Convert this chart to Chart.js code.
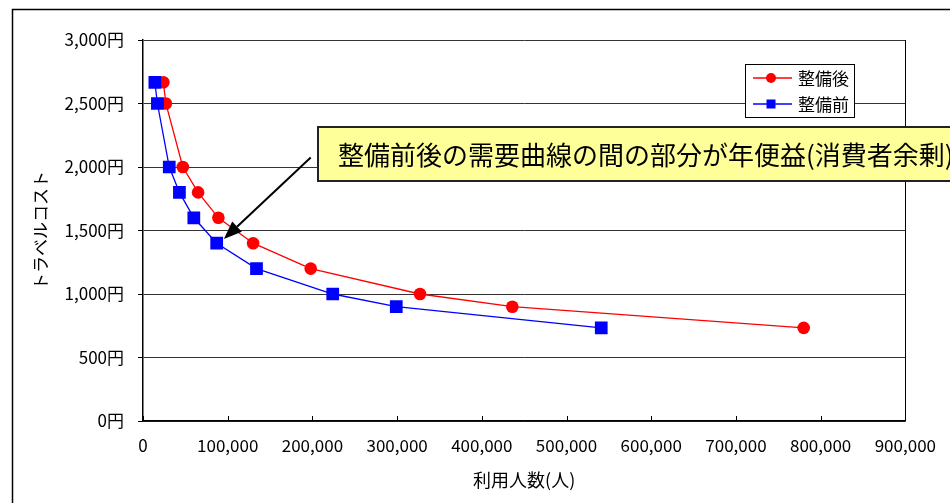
<!DOCTYPE html>
<html>
<head>
<meta charset="utf-8">
<script src="https://cdn.jsdelivr.net/npm/chart.js@4.4.0/dist/chart.umd.min.js"></script>
<style>
  html, body { margin: 0; padding: 0; background: #fff; }
  #wrap { position: relative; width: 950px; height: 503px; }
</style>
</head>
<body>
<div id="wrap"><canvas id="chart" width="950" height="503"></canvas></div>
<script>
// travel cost (yen) for each step of the demand curve
const costs = [2667, 2500, 2000, 1800, 1600, 1400, 1200, 1000, 900, 733];
// users per year, before / after the improvement
const usersBefore = [14000, 17000, 31000, 43000, 60000, 87000, 134000, 224000, 299000, 541000];
const usersAfter = [24000, 27000, 47000, 65000, 89000, 130000, 198000, 327000, 436000, 780000];

const labelBefore = "整備前";
const labelAfter = "整備後";
const xTitle = "利用人数(人)";
const yTitle = "トラベルコスト";
const noteText = "整備前後の需要曲線の間の部分が年便益(消費者余剰)";

const xTickValues = [0, 100000, 200000, 300000, 400000, 500000, 600000, 700000, 800000, 900000];
const yTickValues = [0, 500, 1000, 1500, 2000, 2500, 3000];

// arrow of the note, in data units (from, to)
const arrowFrom = { x: 198000, y: 2075 };
const arrowTo = { x: 95500, y: 1433 };

const FONT = "'Noto Sans CJK JP', 'Noto Sans', sans-serif";

function toPoints(xs) {
  return xs.map((x, i) => ({ x: x, y: costs[i] }));
}

// draws frame, right border, inner x ticks, legend, note box and arrow
const overlay = {
  id: "overlay",
  afterDraw(chart) {
    const ctx = chart.ctx;
    const area = chart.chartArea;
    const xs = chart.scales.x;
    const ys = chart.scales.y;
    ctx.save();

    // right edge of plot
    ctx.strokeStyle = "#000";
    ctx.lineWidth = 1;
    ctx.beginPath();
    ctx.moveTo(Math.round(area.right) + 0.5, area.top);
    ctx.lineTo(Math.round(area.right) + 0.5, area.bottom);
    ctx.stroke();

    // small tick marks pointing into the plot
    ctx.beginPath();
    xTickValues.forEach(v => {
      const px = Math.round(xs.getPixelForValue(v)) + 0.5;
      ctx.moveTo(px, area.bottom);
      ctx.lineTo(px, area.bottom - 5);
    });
    ctx.stroke();

    // legend
    ctx.fillStyle = "#fff";
    ctx.fillRect(745, 64, 109, 53);
    ctx.strokeStyle = "#000";
    ctx.strokeRect(745.5, 64.5, 109, 53);
    const order = [1, 0];
    order.forEach((di, row) => {
      const ds = chart.data.datasets[di];
      const cy = 78 + row * 26;
      ctx.strokeStyle = ds.borderColor;
      ctx.lineWidth = 1.3;
      ctx.beginPath();
      ctx.moveTo(753, cy);
      ctx.lineTo(792, cy);
      ctx.stroke();
      ctx.fillStyle = ds.borderColor;
      if (ds.pointStyle === "rect") {
        ctx.fillRect(771 - 4.5, cy - 4.5, 9, 9);
      } else {
        ctx.beginPath();
        ctx.arc(771, cy, 5, 0, Math.PI * 2);
        ctx.fill();
      }
      ctx.fillStyle = "#000";
      ctx.font = "17px " + FONT;
      ctx.textBaseline = "middle";
      ctx.textAlign = "left";
      ctx.fillText(ds.label, 798, cy + 1);
    });

    // arrow
    const x1 = xs.getPixelForValue(arrowFrom.x), y1 = ys.getPixelForValue(arrowFrom.y);
    const x2 = xs.getPixelForValue(arrowTo.x), y2 = ys.getPixelForValue(arrowTo.y);
    const ang = Math.atan2(y2 - y1, x2 - x1);
    const headLen = 18, headW = 7;
    const bx = x2 - headLen * Math.cos(ang), by = y2 - headLen * Math.sin(ang);
    ctx.strokeStyle = "#000";
    ctx.lineWidth = 2;
    ctx.beginPath();
    ctx.moveTo(x1, y1);
    ctx.lineTo(bx, by);
    ctx.stroke();
    ctx.fillStyle = "#000";
    ctx.beginPath();
    ctx.moveTo(x2, y2);
    ctx.lineTo(bx + headW * Math.sin(ang), by - headW * Math.cos(ang));
    ctx.lineTo(bx - headW * Math.sin(ang), by + headW * Math.cos(ang));
    ctx.closePath();
    ctx.fill();

    // note box
    ctx.fillStyle = "#ffff99";
    ctx.fillRect(318, 127, 700, 54);
    ctx.strokeStyle = "#222";
    ctx.lineWidth = 2;
    ctx.strokeRect(318, 127, 700, 54);
    ctx.fillStyle = "#000";
    ctx.font = "26px " + FONT;
    ctx.textBaseline = "middle";
    ctx.textAlign = "left";
    ctx.fillText(noteText, 338, 155);

    // outer frame of the sheet
    ctx.strokeStyle = "#000";
    ctx.lineWidth = 1.5;
    ctx.beginPath();
    ctx.moveTo(12.5, 503);
    ctx.lineTo(12.5, 9.5);
    ctx.lineTo(950, 9.5);
    ctx.stroke();

    ctx.restore();
  }
};

const ctx = document.getElementById("chart").getContext("2d");
const chart = new Chart(ctx, {
  type: "scatter",
  data: {
    datasets: [
      {
        label: labelBefore,
        data: toPoints(usersBefore),
        showLine: true,
        borderColor: "#0000ff",
        backgroundColor: "#0000ff",
        borderWidth: 1.3,
        pointStyle: "rect",
        pointRadius: 9,
        pointBorderWidth: 0,
      },
      {
        label: labelAfter,
        data: toPoints(usersAfter),
        showLine: true,
        borderColor: "#ff0000",
        backgroundColor: "#ff0000",
        borderWidth: 1.3,
        pointStyle: "circle",
        pointRadius: 6.3,
        pointBorderWidth: 0,
      },
    ],
  },
  options: {
    responsive: false,
    animation: false,
    devicePixelRatio: 1,
    layout: { padding: { left: 0, top: 40, right: 43, bottom: 0 } },
    plugins: {
      legend: { display: false },
      tooltip: { enabled: false },
    },
    scales: {
      x: {
        type: "linear",
        min: 0,
        max: 900000,
        afterBuildTicks: s => { s.ticks = xTickValues.map(v => ({ value: v })); },
        afterFit: s => { s.height = 82; },
        grid: { display: false, drawTicks: false },
        border: { display: true, color: "#000", width: 1.5 },
        ticks: {
          autoSkip: false,
          maxRotation: 0,
          padding: 14,
          color: "#000",
          font: { family: FONT, size: 17 },
          callback: v => v.toLocaleString("en-US"),
        },
        title: {
          display: true,
          text: xTitle,
          color: "#000",
          font: { family: FONT, size: 18 },
          padding: { top: 0, bottom: 12 },
        },
      },
      y: {
        min: 0,
        max: 3000,
        afterBuildTicks: s => { s.ticks = yTickValues.map(v => ({ value: v })); },
        afterFit: s => { s.width = 143; },
        grid: { color: "#333", lineWidth: 1, tickLength: 5, tickColor: "#000" },
        border: { display: true, color: "#000", width: 1.5 },
        ticks: {
          padding: 14,
          color: "#000",
          font: { family: FONT, size: 17 },
          callback: v => v.toLocaleString("en-US") + "円",
        },
        title: {
          display: true,
          text: yTitle,
          color: "#000",
          font: { family: FONT, size: 17 },
          padding: { top: 30, bottom: 0 },
        },
      },
    },
  },
  plugins: [overlay],
});
</script>
</body>
</html>
